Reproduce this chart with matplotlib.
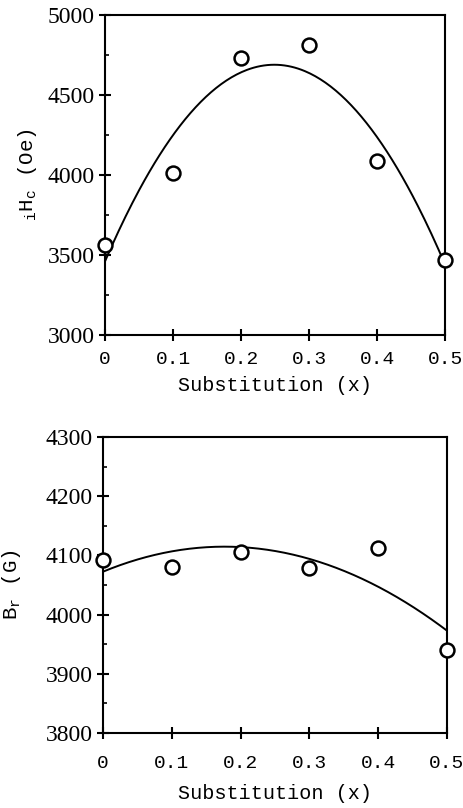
import numpy as np
import matplotlib
matplotlib.use("Agg")
import matplotlib.pyplot as plt
from matplotlib.ticker import MultipleLocator

# Data
x_sub = [0, 0.1, 0.2, 0.3, 0.4, 0.5]
ihc = [3560, 4010, 4730, 4810, 4085, 3470]
br = [4093, 4080, 4105, 4078, 4112, 3940]
x_ticks = [0, 0.1, 0.2, 0.3, 0.4, 0.5]
x_ticklabels = ["0", "0.1", "0.2", "0.3", "0.4", "0.5"]
ihc_ticks = [3000, 3500, 4000, 4500, 5000]
br_ticks = [3800, 3900, 4000, 4100, 4200, 4300]

plt.rcParams['mathtext.fontset'] = 'custom'
plt.rcParams['mathtext.rm'] = 'Liberation Mono'
plt.rcParams['mathtext.it'] = 'Liberation Mono'

fig = plt.figure(figsize=(4.64, 8.08), dpi=100)
ax1 = fig.add_axes([0.2263, 0.5854, 0.733, 0.396])
ax2 = fig.add_axes([0.222, 0.0928, 0.741, 0.3663])

mono = 'Liberation Mono'
serif = 'Liberation Serif'

def style(ax, yticks, ylim, minor, ylabel, xpad, xlabpad, ylabpad):
    ax.set_xlim(0, 0.5)
    ax.set_ylim(*ylim)
    ax.set_xticks(x_ticks)
    ax.set_xticklabels(x_ticklabels, fontfamily=mono, fontsize=14)
    ax.set_yticks(yticks)
    ax.set_yticklabels([str(t) for t in yticks], fontfamily=serif, fontsize=17)
    ax.yaxis.set_minor_locator(MultipleLocator(minor))
    ax.tick_params(axis='both', which='major', direction='inout', length=9, width=1.5, colors='black')
    ax.tick_params(axis='x', which='major', pad=xpad)
    ax.tick_params(axis='y', which='major', pad=3)
    ax.tick_params(axis='y', which='minor', direction='in', length=3, width=1.2)
    for s in ax.spines.values():
        s.set_linewidth(1.5)
    ax.set_xlabel("Substitution (x)", fontfamily=mono, fontsize=14.5, labelpad=xlabpad)
    ax.set_ylabel(ylabel, fontfamily=mono, fontsize=15, labelpad=ylabpad)

def draw(ax, ys):
    xs = np.array(x_sub)
    coef = np.polyfit(xs, np.array(ys), 2)
    xf = np.linspace(0, 0.5, 200)
    ax.plot(xf, np.polyval(coef, xf), color='black', lw=1.4)
    ax.plot(xs, ys, 'o', mfc='white', mec='black', ms=10, mew=1.8, clip_on=False, zorder=5)

draw(ax1, ihc)
style(ax1, ihc_ticks, (3000, 5000), 250, r"$_{\rm i}$H$_{\rm c}$ (Oe)", 7, 6, 6)
draw(ax2, br)
style(ax2, br_ticks, (3800, 4300), 50, r"B$_{\rm r}$ (G)", 11, 9, 16)

fig.savefig("out.png", dpi=100)
